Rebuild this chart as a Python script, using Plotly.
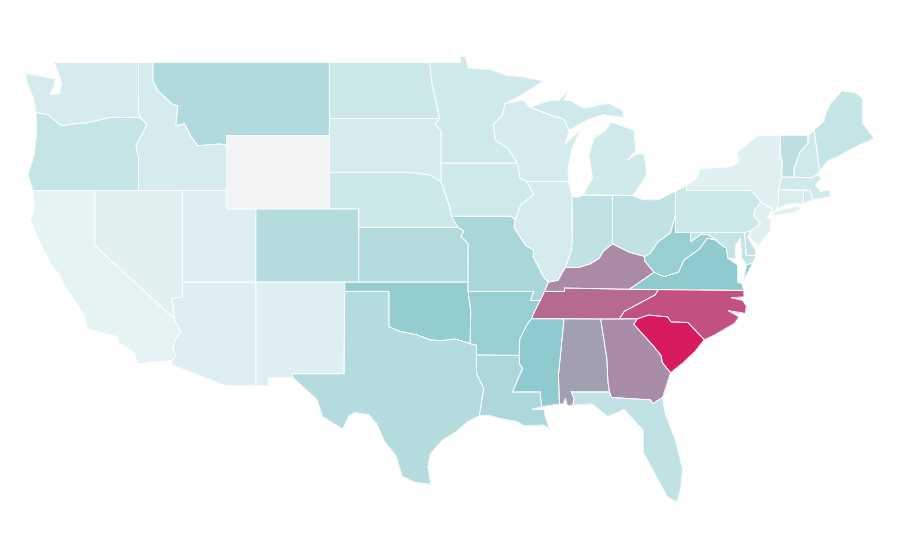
import math

import plotly.graph_objects as go

# values estimated from the fill colours of the picture
states = ["SC", "NC", "TN", "KY", "GA", "AL", "MS", "VA", "WV", "OK", "AR",
          "MO", "LA", "TX", "KS", "CO", "MT", "FL", "IN", "OH", "DE", "MD",
          "VT", "NE", "OR", "ME", "NH", "ND", "SD", "MI", "WI", "IA", "MN",
          "WA", "ID", "IL", "PA", "UT", "NV", "AZ", "NM", "NY", "CA", "NJ",
          "CT", "RI", "MA"]
values = [100, 76, 65, 51, 50, 41, 22, 22, 20, 21, 20,
          16, 15, 13, 13, 13, 14, 10, 10, 10, 10, 9,
          11, 7, 9, 9, 6, 7, 5, 6, 5, 6, 6,
          5, 5, 5, 7, 3, 2, 3, 3, 2, 1, 2,
          4, 6, 6]
no_data_states = ["WY"]

colorscale = [[0, "#e9f5f6"], [0.22, "#8fcbce"], [1, "#d81b60"]]
no_data_color = "#f2f3f5"

# plotly's own state topojson lives on a CDN that can't be reached here,
# so these are rough hand-traced outlines (lon, lat) standing in for it
outlines = {
    "WA": [[(-124.7, 48.4), (-123.1, 48.18), (-122.7, 48.1), (-122.75, 47.7), (-123.05, 47.25), (-122.4, 47.3), (-122.25, 47.9), (-122.5, 48.5), (-122.75, 49), (-117.03, 49), (-117.04, 46.42), (-116.92, 45.99), (-118.98, 46), (-119.3, 45.93), (-120.5, 45.7), (-121.2, 45.67), (-122.3, 45.55), (-122.8, 45.9), (-123.2, 46.15), (-124, 46.27), (-124.1, 46.9), (-124.6, 47.9)]],
    "OR": [[(-124, 46.27), (-123.2, 46.15), (-122.8, 45.9), (-122.3, 45.55), (-121.2, 45.67), (-120.5, 45.7), (-119.3, 45.93), (-118.98, 46), (-116.92, 45.99), (-116.46, 45.6), (-116.85, 44.95), (-117.2, 44.45), (-117.03, 43.8), (-117.03, 42), (-124.2, 42), (-124.55, 42.85), (-124.1, 44), (-123.95, 45.2)]],
    "CA": [[(-124.2, 42), (-120, 42), (-120, 39), (-114.6, 35), (-114.15, 34.3), (-114.5, 33.9), (-114.7, 33.4), (-114.5, 33), (-114.72, 32.72), (-117.12, 32.53), (-117.3, 33.1), (-118.4, 33.75), (-118.5, 34.03), (-119.2, 34.15), (-120.5, 34.45), (-120.65, 35.15), (-121.9, 36.6), (-122.5, 37.5), (-123, 38), (-123.8, 39.3), (-124.4, 40.4), (-124.1, 41)]],
    "NV": [[(-120, 42), (-114.05, 42), (-114.05, 36.2), (-114.75, 36.1), (-114.65, 35.6), (-114.6, 35), (-120, 39)]],
    "ID": [[(-117.03, 49), (-116.05, 49), (-116.05, 48), (-115.7, 47.45), (-114.7, 46.7), (-114.35, 46.65), (-114.5, 45.55), (-113.9, 45.65), (-113.45, 44.95), (-113, 44.45), (-111.5, 44.55), (-111.05, 44.48), (-111.05, 42), (-117.03, 42), (-117.03, 43.8), (-117.2, 44.45), (-116.85, 44.95), (-116.46, 45.6), (-116.92, 45.99), (-117.04, 46.42)]],
    "MT": [[(-116.05, 49), (-104.05, 49), (-104.05, 45), (-111.05, 45), (-111.05, 44.48), (-111.5, 44.55), (-113, 44.45), (-113.45, 44.95), (-113.9, 45.65), (-114.5, 45.55), (-114.35, 46.65), (-114.7, 46.7), (-115.7, 47.45), (-116.05, 48)]],
    "WY": [[(-111.05, 45), (-104.05, 45), (-104.05, 41), (-111.05, 41)]],
    "UT": [[(-114.05, 42), (-111.05, 42), (-111.05, 41), (-109.05, 41), (-109.05, 37), (-114.05, 37)]],
    "CO": [[(-109.05, 41), (-102.05, 41), (-102.05, 37), (-109.05, 37)]],
    "AZ": [[(-114.05, 37), (-109.05, 37), (-109.05, 31.33), (-111.07, 31.33), (-114.8, 32.5), (-114.72, 32.72), (-114.5, 33), (-114.7, 33.4), (-114.5, 33.9), (-114.15, 34.3), (-114.6, 35), (-114.65, 35.6), (-114.75, 36.1), (-114.05, 36.2)]],
    "NM": [[(-109.05, 37), (-103, 37), (-103.05, 32), (-106.62, 32), (-106.53, 31.78), (-108.2, 31.78), (-108.2, 31.33), (-109.05, 31.33)]],
    "ND": [[(-104.05, 49), (-97.23, 49), (-97.1, 48), (-96.85, 47), (-96.56, 45.94), (-104.05, 45.94)]],
    "SD": [[(-104.05, 45.94), (-96.56, 45.94), (-96.85, 45.6), (-96.45, 45.3), (-96.45, 43.5), (-96.45, 42.49), (-97.2, 42.85), (-98.5, 43), (-104.05, 43)]],
    "NE": [[(-104.05, 43), (-98.5, 43), (-97.2, 42.85), (-96.45, 42.49), (-96.1, 41.7), (-95.9, 41.2), (-95.75, 40.6), (-95.31, 40), (-102.05, 40), (-102.05, 41), (-104.05, 41)]],
    "KS": [[(-102.05, 40), (-95.31, 40), (-94.9, 39.8), (-95.1, 39.5), (-94.61, 39.11), (-94.62, 37), (-102.05, 37)]],
    "OK": [[(-103, 37), (-94.62, 37), (-94.62, 36.5), (-94.43, 35.4), (-94.48, 33.64), (-95.5, 33.9), (-96.5, 33.8), (-97.2, 33.85), (-98.1, 34.13), (-99.2, 34.3), (-100, 34.56), (-100, 36.5), (-103, 36.5)]],
    "TX": [[(-103, 36.5), (-100, 36.5), (-100, 34.56), (-99.2, 34.3), (-98.1, 34.13), (-97.2, 33.85), (-96.5, 33.8), (-95.5, 33.9), (-94.48, 33.64), (-94.04, 33.55), (-94.04, 33.02), (-94.04, 32), (-93.55, 31.2), (-93.7, 30.4), (-93.85, 29.7), (-94.7, 29.35), (-95.3, 28.9), (-96.4, 28.35), (-97.2, 27.6), (-97.35, 26.9), (-97.15, 25.96), (-98.2, 26.06), (-99.1, 26.4), (-99.5, 27.5), (-100.3, 28.3), (-100.8, 29.25), (-101.4, 29.77), (-102.3, 29.88), (-102.7, 29.7), (-103.15, 28.98), (-104.5, 29.65), (-104.9, 30.6), (-106.53, 31.78), (-106.62, 32), (-103.05, 32)]],
    "MN": [[(-97.23, 49), (-95.15, 49), (-95.15, 49.38), (-94.8, 49.3), (-94.6, 48.7), (-93, 48.6), (-92, 48.3), (-90.8, 48.2), (-89.5, 48), (-90.8, 47.3), (-92.1, 46.75), (-92.3, 46.1), (-92.9, 45.6), (-92.75, 44.75), (-91.9, 44.3), (-91.25, 43.5), (-96.45, 43.5), (-96.45, 45.3), (-96.85, 45.6), (-96.56, 45.94), (-96.85, 47), (-97.1, 48)]],
    "IA": [[(-96.45, 43.5), (-91.25, 43.5), (-91.1, 42.7), (-90.65, 42.5), (-90.15, 41.8), (-91.05, 41.2), (-91.4, 40.4), (-91.7, 40.6), (-95.75, 40.6), (-95.9, 41.2), (-96.1, 41.7), (-96.45, 42.49)]],
    "MO": [[(-95.75, 40.6), (-91.7, 40.6), (-91.4, 40.4), (-91.5, 40), (-90.7, 39), (-90.15, 38.75), (-90.2, 38.4), (-89.5, 37.3), (-89.15, 37), (-89.4, 36.5), (-89.7, 36), (-90.37, 36), (-90.15, 36.5), (-94.62, 36.5), (-94.62, 37), (-94.61, 39.11), (-95.1, 39.5), (-94.9, 39.8), (-95.31, 40)]],
    "AR": [[(-94.62, 36.5), (-90.15, 36.5), (-90.37, 36), (-89.7, 36), (-90.1, 35.4), (-90.3, 35), (-90.6, 34.7), (-91.1, 33.9), (-91.15, 33), (-94.04, 33.02), (-94.04, 33.55), (-94.48, 33.64), (-94.43, 35.4)]],
    "LA": [[(-94.04, 33.02), (-91.15, 33), (-91.1, 32.5), (-90.9, 32.3), (-91.6, 31), (-89.73, 31), (-89.6, 30.2), (-90.3, 30.05), (-89.4, 30.05), (-89.4, 29.75), (-89.1, 29), (-89.5, 29.2), (-90.8, 29.15), (-91.3, 29.4), (-92.15, 29.5), (-93.2, 29.72), (-93.85, 29.7), (-93.7, 30.4), (-93.55, 31.2), (-94.04, 32)]],
    "MS": [[(-91.15, 33), (-91.1, 33.9), (-90.6, 34.7), (-90.3, 35), (-88.2, 35), (-88.1, 34.9), (-88.47, 31.9), (-88.4, 30.35), (-89.6, 30.2), (-89.73, 31), (-91.6, 31), (-90.9, 32.3), (-91.1, 32.5)]],
    "TN": [[(-90.3, 35), (-90.1, 35.4), (-89.7, 36), (-89.4, 36.5), (-88.05, 36.5), (-88.07, 36.68), (-83.68, 36.6), (-81.68, 36.59), (-81.9, 36.3), (-82.6, 36), (-83.2, 35.72), (-84, 35.4), (-84.32, 34.99), (-85.6, 34.98), (-88.2, 35)]],
    "KY": [[(-89.4, 36.5), (-89.15, 37), (-88.5, 37.1), (-88, 37.8), (-87.1, 37.8), (-86.3, 38), (-85.7, 38.3), (-85.4, 38.7), (-84.8, 39.1), (-84.3, 38.9), (-83.7, 38.65), (-82.6, 38.4), (-82.6, 38.15), (-81.97, 37.54), (-83.68, 36.6), (-88.07, 36.68), (-88.05, 36.5)]],
    "IL": [[(-90.65, 42.5), (-87.8, 42.5), (-87.55, 41.7), (-87.53, 39.35), (-87.6, 38.7), (-88, 37.8), (-88.5, 37.1), (-89.15, 37), (-89.5, 37.3), (-90.2, 38.4), (-90.15, 38.75), (-90.7, 39), (-91.5, 40), (-91.4, 40.4), (-91.05, 41.2), (-90.15, 41.8)]],
    "IN": [[(-87.55, 41.7), (-87.2, 41.62), (-86.8, 41.76), (-84.8, 41.76), (-84.8, 39.1), (-85.4, 38.7), (-85.7, 38.3), (-86.3, 38), (-87.1, 37.8), (-88, 37.8), (-87.6, 38.7), (-87.53, 39.35)]],
    "OH": [[(-84.8, 41.76), (-83.45, 41.73), (-82.7, 41.5), (-81.7, 41.5), (-80.52, 41.97), (-80.52, 40.64), (-80.85, 39.7), (-81.7, 39.2), (-82.2, 38.6), (-82.6, 38.4), (-83.7, 38.65), (-84.3, 38.9), (-84.8, 39.1)]],
    "MI": [[(-86.8, 41.76), (-84.8, 41.76), (-83.45, 41.73), (-83.2, 41.95), (-82.45, 42.9), (-82.65, 44), (-83.2, 44), (-83.8, 43.65), (-83.2, 44.2), (-83.35, 45.3), (-84.9, 45.75), (-85.25, 45.3), (-86.05, 44.85), (-86.4, 43.9), (-86.15, 42.7)],
           [(-90.4, 46.55), (-89, 46.95), (-88.45, 46.92), (-87.75, 47.47), (-88.1, 46.95), (-87.6, 46.9), (-86.75, 46.5), (-85.05, 46.76), (-84.1, 46.38), (-84, 46), (-85.4, 46.15), (-86.5, 45.87), (-87.15, 45.55), (-87.75, 45.3), (-88.1, 45.9), (-89.1, 46.15)]],
    "WI": [[(-92.1, 46.75), (-90.9, 46.95), (-90.4, 46.55), (-89.1, 46.15), (-88.1, 45.9), (-87.75, 45.3), (-88, 44.55), (-87, 45.3), (-87.55, 44.3), (-87.8, 43.3), (-87.8, 42.5), (-90.65, 42.5), (-91.1, 42.7), (-91.25, 43.5), (-91.9, 44.3), (-92.75, 44.75), (-92.9, 45.6), (-92.3, 46.1)]],
    "PA": [[(-80.52, 41.97), (-79.76, 42.27), (-79.76, 42), (-75.35, 42), (-75.05, 41.75), (-74.7, 41.36), (-75.1, 40.95), (-75.2, 40.65), (-74.75, 40.2), (-75.4, 39.8), (-75.8, 39.72), (-80.52, 39.72), (-80.52, 40.64)]],
    "NY": [[(-79.76, 42.27), (-79, 42.7), (-78.9, 43.2), (-76.8, 43.3), (-76.2, 43.55), (-76.3, 44.1), (-75, 44.95), (-74.7, 45), (-73.35, 45), (-73.4, 44), (-73.25, 43.6), (-73.28, 42.75), (-73.5, 42.05), (-73.5, 41.3), (-73.65, 41), (-73.9, 40.75), (-73.9, 41), (-74.7, 41.36), (-75.05, 41.75), (-75.35, 42), (-79.76, 42)],
           [(-74, 40.6), (-73.7, 40.87), (-72.3, 41.15), (-71.9, 41.05), (-72.5, 40.8)]],
    "NJ": [[(-74.7, 41.36), (-73.9, 41), (-74.25, 40.5), (-74, 40.45), (-74.1, 39.75), (-74.9, 38.95), (-75.5, 39.5), (-75.4, 39.8), (-74.75, 40.2), (-75.2, 40.65), (-75.1, 40.95)]],
    "DE": [[(-75.8, 39.72), (-75.4, 39.8), (-75.6, 39.45), (-75.1, 38.8), (-75.05, 38.45), (-75.7, 38.46)]],
    "MD": [[(-79.48, 39.72), (-75.8, 39.72), (-75.7, 38.46), (-75.05, 38.45), (-75.25, 38.03), (-75.65, 37.95), (-76, 38.3), (-76.1, 39.4), (-76.45, 39), (-76.4, 38.3), (-76.95, 38.3), (-77.05, 38.7), (-77.05, 38.85), (-77.5, 39.1), (-77.75, 39.3), (-78.3, 39.6), (-78.8, 39.6), (-79.48, 39.2)]],
    "VA": [[(-83.68, 36.6), (-81.97, 37.54), (-81.3, 37.3), (-80.3, 37.55), (-79.95, 38.2), (-78.9, 38.8), (-78.35, 39.4), (-77.75, 39.3), (-77.5, 39.1), (-77.05, 38.85), (-77.05, 38.7), (-76.95, 38.3), (-76.3, 37.95), (-76.3, 37), (-76, 36.92), (-75.87, 36.55), (-81.68, 36.59)],
           [(-75.65, 37.95), (-75.25, 38.03), (-75.9, 37.1)]],
    "WV": [[(-80.52, 40.64), (-80.52, 39.72), (-79.48, 39.72), (-79.48, 39.2), (-78.8, 39.6), (-78.3, 39.6), (-77.75, 39.3), (-78.35, 39.4), (-78.9, 38.8), (-79.95, 38.2), (-80.3, 37.55), (-81.3, 37.3), (-81.97, 37.54), (-82.6, 38.15), (-82.6, 38.4), (-82.2, 38.6), (-81.7, 39.2), (-80.85, 39.7)]],
    "NC": [[(-84.32, 34.99), (-84, 35.4), (-83.2, 35.72), (-82.6, 36), (-81.9, 36.3), (-81.68, 36.59), (-75.87, 36.55), (-75.85, 36.2), (-76.75, 36.15), (-75.95, 36), (-75.7, 35.7), (-75.75, 35.3), (-76.95, 35.45), (-76.2, 35.1), (-76.5, 34.75), (-77.9, 34.1), (-78.55, 33.86), (-79.68, 34.8), (-80.8, 34.82), (-81.05, 35.1), (-82.35, 35.2), (-83.1, 35)]],
    "SC": [[(-83.1, 35), (-82.35, 35.2), (-81.05, 35.1), (-80.8, 34.82), (-79.68, 34.8), (-78.55, 33.86), (-79.2, 33.2), (-80, 32.6), (-80.85, 32.05), (-81.4, 32.6), (-81.5, 33), (-82, 33.5), (-82.6, 34), (-83.35, 34.7)]],
    "GA": [[(-85.6, 34.98), (-84.32, 34.99), (-83.1, 35), (-83.35, 34.7), (-82.6, 34), (-82, 33.5), (-81.5, 33), (-81.4, 32.6), (-80.85, 32.05), (-81.4, 30.7), (-82.05, 30.36), (-82.2, 30.57), (-84.86, 30.7), (-85, 31), (-85.1, 31.55), (-85.18, 32.86)]],
    "AL": [[(-88.2, 35), (-85.6, 34.98), (-85.18, 32.86), (-85.1, 31.55), (-85, 31), (-87.6, 31), (-87.4, 30.65), (-87.5, 30.28), (-87.85, 30.25), (-88, 30.65), (-88.15, 30.35), (-88.4, 30.35), (-88.47, 31.9), (-88.1, 34.9)]],
    "FL": [[(-87.6, 31), (-85, 31), (-84.86, 30.7), (-82.2, 30.57), (-82.05, 30.36), (-81.4, 30.7), (-81.2, 29.8), (-80.55, 28.45), (-80.03, 26.8), (-80.15, 25.75), (-80.4, 25), (-81.05, 25.25), (-81.75, 26.3), (-82.7, 27.7), (-82.7, 28.9), (-83.4, 29.5), (-84, 30.05), (-85.1, 29.65), (-86.2, 30.35), (-87.5, 30.28), (-87.4, 30.65)]],
    "CT": [[(-73.5, 42.05), (-71.8, 42.02), (-71.8, 41.32), (-72.9, 41.25), (-73.65, 41), (-73.5, 41.3)]],
    "RI": [[(-71.8, 42.02), (-71.38, 42.02), (-71.15, 41.5), (-71.8, 41.32)]],
    "MA": [[(-73.28, 42.75), (-71.3, 42.7), (-70.85, 42.87), (-70.6, 42.65), (-71, 42.3), (-70.65, 41.95), (-70.05, 42.05), (-69.95, 41.67), (-70.65, 41.55), (-71.15, 41.5), (-71.38, 42.02), (-71.8, 42.02), (-73.5, 42.05)]],
    "VT": [[(-73.35, 45), (-71.5, 45), (-71.5, 44.6), (-72.05, 44.1), (-72.45, 43.2), (-72.46, 42.73), (-73.28, 42.75), (-73.25, 43.6), (-73.4, 44)]],
    "NH": [[(-71.5, 45), (-71.08, 45.3), (-70.7, 43.07), (-70.85, 42.87), (-71.3, 42.7), (-72.46, 42.73), (-72.45, 43.2), (-72.05, 44.1), (-71.5, 44.6)]],
    "ME": [[(-71.08, 45.3), (-70.4, 45.8), (-70.3, 46.2), (-70, 46.7), (-69.2, 47.45), (-68.3, 47.35), (-67.8, 47.07), (-67.8, 45.7), (-67.45, 45.3), (-67, 44.85), (-68.5, 44.3), (-69.5, 43.85), (-70.2, 43.6), (-70.7, 43.07)]],
}

# the picture is a flat lon/lat map, 14.7 px per degree across and 18.3 down,
# while the map subplot is always web mercator, so undo mercator on the latitudes
CENTER_LAT = 37.09
Y_STRETCH = 18.3 / 14.7


def _flat_lat(lat):
    m0 = math.log(math.tan(math.pi / 4 + math.radians(CENTER_LAT) / 2))
    m = m0 + math.radians(lat - CENTER_LAT) * Y_STRETCH
    return math.degrees(2 * math.atan(math.exp(m)) - math.pi / 2)


def _ring(points):
    return [[lon, _flat_lat(lat)] for lon, lat in points + points[:1]]


geojson = {
    "type": "FeatureCollection",
    "features": [
        {"type": "Feature", "id": name,
         "geometry": {"type": "MultiPolygon", "coordinates": [[_ring(r)] for r in rings]}}
        for name, rings in outlines.items()
    ],
}

fig = go.Figure()
fig.add_trace(go.Choroplethmap(
    geojson=geojson,
    locations=states,
    z=values,
    colorscale=colorscale,
    zmin=0,
    zmax=100,
    showscale=False,
    marker_line_color="white",
    marker_line_width=0.8,
))
fig.add_trace(go.Choroplethmap(
    geojson=geojson,
    locations=no_data_states,
    z=[0] * len(no_data_states),
    colorscale=[[0, no_data_color], [1, no_data_color]],
    showscale=False,
    marker_line_color="white",
    marker_line_width=0.8,
))
# white-bg needs no tiles, so nothing is fetched
fig.update_layout(
    map=dict(style="white-bg", center=dict(lon=-95.3, lat=_flat_lat(CENTER_LAT - 0.41)), zoom=3.37),
    width=900,
    height=560,
    margin=dict(l=0, r=0, t=0, b=0),
    paper_bgcolor="white",
)
fig.write_html("out.html")
